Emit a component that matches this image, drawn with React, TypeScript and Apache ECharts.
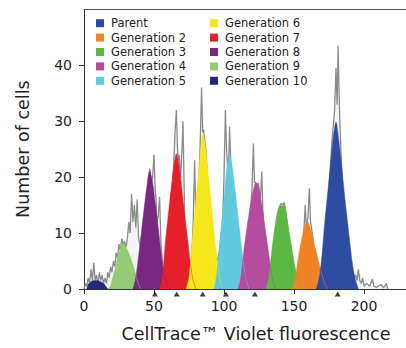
import React, { useEffect, useRef } from "react";
import * as echarts from "echarts";

const legendLeft = ["Parent", "Generation 2", "Generation 3", "Generation 4", "Generation 5"];
const legendRight = ["Generation 6", "Generation 7", "Generation 8", "Generation 9", "Generation 10"];

const colors: Record<string, string> = {
  "Parent": "#2f4ca3",
  "Generation 2": "#f08424",
  "Generation 3": "#5cb743",
  "Generation 4": "#b54b9d",
  "Generation 5": "#5fc9df",
  "Generation 6": "#f6e71d",
  "Generation 7": "#e6202a",
  "Generation 8": "#792882",
  "Generation 9": "#93cc74",
  "Generation 10": "#242877",
};

const gen10 = [[2, 0], [3, 0.8], [5, 1.3], [8, 1.5], [11, 1.4], [14, 1.0], [16, 0.3], [17, 0]];
const gen9 = [[17, 0], [19, 0.6], [22, 3.5], [25, 6.5], [28, 8.2], [31, 7], [34, 5], [36, 3.5], [39, 0.8], [41, 0]];
const gen8 = [[35, 0], [37, 2], [40, 8], [43, 14.5], [45, 18.5], [47, 21], [49, 19], [51, 15], [53, 11], [55, 6.5], [57, 3], [59, 1], [61, 0]];
const gen7 = [[54, 0], [56, 2], [58, 8], [61, 15], [64, 21.5], [66, 24.2], [68, 22], [70, 17.5], [72, 13], [74, 9], [76, 4.5], [78, 1.5], [80, 0]];
const gen6 = [[73, 0], [75, 2], [77, 8], [80, 16], [83, 24], [85, 27.7], [87, 25], [89, 20], [91, 15], [93, 10], [95, 5.5], [97, 2], [99, 0]];
const gen5 = [[93, 0], [95, 3], [97, 8.5], [100, 16], [102, 21.5], [104, 24], [106, 21.5], [108, 17.5], [110, 13], [112, 8.5], [114, 4.5], [116, 1.5], [118, 0]];
const gen4 = [[110, 0], [112, 2], [114, 6.5], [117, 12], [120, 16.5], [123, 19], [125, 18], [127, 15], [129, 11.5], [131, 8], [133, 4.5], [135, 1.5], [137, 0]];
const gen3 = [[130, 0], [132, 2], [134, 6.5], [136, 10.5], [138, 13.5], [140, 14.9], [143, 14.9], [145, 12.5], [147, 9.5], [149, 6.5], [151, 3.5], [153, 1.5], [155, 0]];
const gen2 = [[149, 0], [151, 2], [153, 5.5], [156, 9.5], [158, 11.5], [160, 11.9], [162, 10.5], [164, 8.5], [166, 6.5], [168, 4.5], [170, 2.5], [172, 1], [174, 0]];
const parent = [[166, 0], [168, 2], [170, 6], [172, 12], [174, 17], [176, 22], [178, 27], [180, 29.8], [182, 26.5], [184, 22], [186, 17], [188, 12.5], [190, 8], [192, 4], [194, 1.5], [196, 0]];

const rawTrace = [
  [0, 0], [1, 1], [2, 0.5], [3, 2], [4, 1], [5, 3.5], [6, 1.5], [7, 4.7], [8, 1.5], [9, 2.5], [10, 1], [11, 3], [12, 1.5], [13, 2.5], [14, 1], [15, 2], [16, 1], [17, 3], [18, 2], [19, 4], [20, 3],
  [21, 5], [22, 4], [23, 6.5], [24, 5.5], [25, 8], [26, 7], [27, 9], [28, 8], [29, 8.5], [30, 7.5], [31, 9], [32, 12], [33, 10], [34, 17], [35, 12], [36, 15], [37, 11], [38, 16], [39, 9], [40, 8],
  [41, 7], [42, 9], [43, 11], [44, 14], [45, 16], [46, 20], [47, 21.5], [48, 19], [49, 20], [50, 24], [50.8, 18], [51.5, 16], [52, 12], [53, 13], [54, 16.5], [55, 8], [56, 5], [57, 3], [58, 5], [59, 7], [60, 11],
  [61, 12], [62, 17], [63, 18], [64, 22], [65, 28], [66, 32], [66.8, 25], [67.5, 23], [68, 24], [69, 20], [70, 25], [70.7, 30], [71.4, 20], [72, 11], [73, 7], [74, 4], [75, 3], [76, 4], [77, 6], [78, 12], [79, 23], [79.8, 14], [80, 10],
  [81, 16], [82, 19], [83, 26], [84, 36], [84.8, 28], [85.5, 28.5], [86, 27], [87, 25], [88, 21], [89, 15], [90, 13], [91, 10], [92, 8], [93, 6], [94, 5], [95, 5], [96, 6], [97, 7], [98, 10], [99, 12], [100, 20],
  [101, 32], [101.8, 25], [102.6, 22], [103.5, 24], [104, 29], [104.8, 23], [106, 20], [107, 17], [108, 14], [109, 12], [110, 8], [111, 7], [112, 5], [113, 3], [114, 4], [115, 4], [116, 6], [117, 8], [118, 10], [119, 14], [120, 18],
  [121, 26], [121.8, 19], [122.5, 19], [123.5, 18.5], [124.5, 19], [125, 18], [126, 16], [127, 21], [127.8, 14], [128.5, 10], [130, 6], [131, 4], [132, 3], [133, 2], [134, 3], [135, 5], [136, 7], [137, 9], [138, 11], [139, 14], [140, 15],
  [141, 15.3], [142, 15], [143, 15.5], [144, 14], [145, 12], [146, 10], [147, 8], [148, 6], [149, 5], [150, 4], [151, 3], [152, 2.5], [153, 3], [154, 4], [155, 5], [156, 6], [157, 10], [158, 15], [158.8, 11], [159.5, 12], [160, 13],
  [161, 18], [161.8, 12], [162.5, 11], [163, 10], [164, 8], [165, 6], [166, 4], [167, 3], [168, 2], [169, 3], [170, 4], [171, 6], [172, 8], [173, 11], [174, 14], [175, 18], [176, 22], [177, 26], [178, 29], [179, 32], [180, 39.5],
  [180.8, 33], [181.5, 43.5], [182.2, 35], [183, 28], [184, 22], [185, 17], [186, 12], [187, 9], [188, 7], [189, 6], [190, 4], [191, 3], [192, 2.5], [193, 2], [194, 2.5], [195, 1.5], [196, 3.5], [197, 1.5], [198, 1], [199, 2], [200, 0.5],
  [202, 1], [204, 0.5], [206, 1.8], [207, 0.5], [209, 0.3], [212, 0.8], [214, 0.2], [216, 1], [217, 0],
];

const peakMarkers = [50.7, 66.2, 84.8, 101.4, 122.1, 181.2];

const fills: [string, number[][]][] = [
  ["Generation 10", gen10],
  ["Generation 9", gen9],
  ["Generation 8", gen8],
  ["Generation 7", gen7],
  ["Generation 6", gen6],
  ["Generation 5", gen5],
  ["Generation 4", gen4],
  ["Generation 3", gen3],
  ["Generation 2", gen2],
  ["Parent", parent],
];

const FONT = "DejaVu Sans";

export default function App() {
  const ref = useRef<HTMLDivElement>(null);
  useEffect(() => {
    if (!ref.current) return;
    const chart = echarts.init(ref.current, null, { renderer: "svg" });
    const legendCommon = {
      orient: "vertical",
      padding: 0,
      itemWidth: 8,
      itemHeight: 8,
      itemGap: 0,
      icon: "rect",
      selectedMode: false,
      textStyle: { fontFamily: FONT, fontSize: 11.5, color: "#222", lineHeight: 14.4, padding: [0, 0, 0, 2] },
    };
    chart.setOption({
      animation: false,
      backgroundColor: "#fff",
      grid: { left: 84, right: 0, top: 9.3, bottom: 52.7 },
      legend: [
        { ...legendCommon, left: 96, top: 16, data: legendLeft },
        { ...legendCommon, left: 210, top: 16, data: legendRight },
      ],
      xAxis: [
        {
          type: "value",
          min: 0,
          max: 230,
          interval: 50,
          name: "CellTrace™ Violet fluorescence",
          nameLocation: "middle",
          nameGap: 36,
          nameTextStyle: { fontFamily: FONT, fontSize: 17.5, color: "#222", padding: [0, 0, 0, 22] },
          axisLine: { show: true, lineStyle: { color: "#333", width: 1 } },
          axisTick: { show: true, length: 5, lineStyle: { color: "#333" } },
          axisLabel: { fontFamily: FONT, fontSize: 14, color: "#222", margin: 9.5, showMaxLabel: false },
          splitLine: { show: false },
        },
        {
          type: "value",
          position: "top",
          min: 0,
          max: 230,
          axisLine: { show: true, onZero: false, lineStyle: { color: "#555", width: 1.2 } },
          axisTick: { show: false },
          axisLabel: { show: false },
          splitLine: { show: false },
        },
      ],
      yAxis: {
        type: "value",
        min: 0,
        max: 50,
        interval: 10,
        name: "Number of cells",
        nameLocation: "middle",
        nameGap: 52,
        nameTextStyle: { fontFamily: FONT, fontSize: 17.5, color: "#222" },
        axisLine: { show: true, lineStyle: { color: "#333", width: 1 } },
        axisTick: { show: true, length: 5, lineStyle: { color: "#333" } },
        axisLabel: { fontFamily: FONT, fontSize: 14, color: "#222", margin: 12, showMaxLabel: false },
        splitLine: { show: false },
      },
      series: [
        {
          name: "raw",
          type: "line",
          data: rawTrace,
          symbol: "none",
          z: 1,
          lineStyle: { color: "rgba(120,120,120,0.85)", width: 1.3 },
          areaStyle: { color: "rgba(210,210,210,0.35)" },
        },
        ...fills.map(([name, d]) => ({
          name,
          type: "line",
          data: d,
          symbol: "none",
          smooth: 0.3,
          z: 2,
          itemStyle: { color: colors[name] },
          lineStyle: { color: colors[name], width: 0.5 },
          areaStyle: { color: colors[name], opacity: 1 },
        })),
        {
          name: "peaks",
          type: "scatter",
          data: peakMarkers.map((x) => [x, 0]),
          symbol: "triangle",
          symbolSize: [6, 5],
          symbolOffset: [0, 5],
          clip: false,
          z: 5,
          itemStyle: { color: "#111" },
          silent: true,
        },
      ],
    });
    return () => chart.dispose();
  }, []);
  return <div ref={ref} style={{ width: 406, height: 348, position: "absolute", left: 0, top: 0 }} />;
}
